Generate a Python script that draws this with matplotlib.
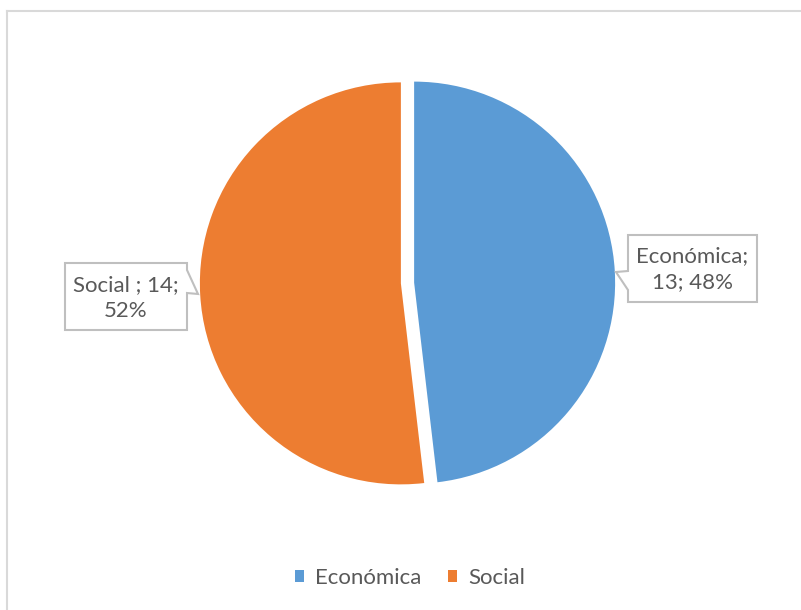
import matplotlib
matplotlib.use("Agg")
import matplotlib.pyplot as plt
from matplotlib.patches import Polygon, Patch
from matplotlib.lines import Line2D

plt.rcParams['font.family'] = ['Lato', 'DejaVu Sans']

# datos
categorias = ["Económica", "Social"]
valores = [13, 14]
porcentajes = ["48%", "52%"]
etiquetas = ["Económica;\n13; 48%", "Social ; 14;\n52%"]
colores = ["#5B9BD5", "#ED7D31"]

W, H = 801, 610
S = 201.0            # pixeles por unidad (radio del pie)
CX, CY = 407.5, 283  # centro del pie en pixeles (y hacia abajo)

def px(x, y):
    # pixeles de la imagen -> coordenadas de datos
    return ((x - CX) / S, (CY - y) / S)

fig = plt.figure(figsize=(W / 100, H / 100), dpi=100)
ax = fig.add_axes([0, 0, 1, 1])

wedges, _ = ax.pie(valores, colors=colores, startangle=90, counterclock=False,
                   explode=[0.033, 0.033], radius=1, center=(0, 0),
                   wedgeprops=dict(linewidth=0))
ax.set_aspect("equal")
ax.set_xlim(px(0, 0)[0], px(W, 0)[0])
ax.set_ylim(px(0, H)[1], px(0, 0)[1])
ax.axis("off")

# cuadros de etiqueta tipo globo (posiciones de maquetación)
globos = [
    # caja (x0, y0, x1, y1), muesca (lado, sup, punta, inf), centro del texto
    dict(caja=(628, 235, 757, 302), lado="izq", sup=271, punta=(616, 272), inf=290, texto=(692, 269)),
    dict(caja=(65, 263, 187, 330), lado="der", sup=270, punta=(198, 294), inf=293, texto=(126, 298)),
]

for g, etiqueta in zip(globos, etiquetas):
    x0, y0, x1, y1 = g["caja"]
    if g["lado"] == "izq":
        pts = [(x0, y0), (x1, y0), (x1, y1), (x0, y1), (x0, g["inf"]), g["punta"], (x0, g["sup"])]
    else:
        pts = [(x0, y0), (x1, y0), (x1, g["sup"]), g["punta"], (x1, g["inf"]), (x1, y1), (x0, y1)]
    poly = Polygon([px(*p) for p in pts], closed=True, facecolor="white",
                   edgecolor="#BFBFBF", linewidth=1.5, zorder=3)
    ax.add_patch(poly)
    tx, ty = px(*g["texto"])
    ax.text(tx, ty, etiqueta, ha="center", va="center", fontsize=16,
            color="#595959", linespacing=1.35, zorder=4)

# leyenda
handles = [Patch(facecolor=c, edgecolor="none") for c in colores]
fig.legend(handles, categorias, loc="center", bbox_to_anchor=(410 / W, 1 - 578 / H),
           ncol=2, frameon=False, fontsize=16, labelcolor="#595959",
           handlelength=0.4, handleheight=0.4, handletextpad=0.5, columnspacing=1.2)

# borde del gráfico
fig.add_artist(Line2D([6.5 / W, 1], [1 - 11 / H, 1 - 11 / H], color="#D9D9D9", lw=1.5))
fig.add_artist(Line2D([6.5 / W, 6.5 / W], [0, 1 - 11 / H], color="#D9D9D9", lw=1.5))

fig.savefig("out.png", dpi=100)
